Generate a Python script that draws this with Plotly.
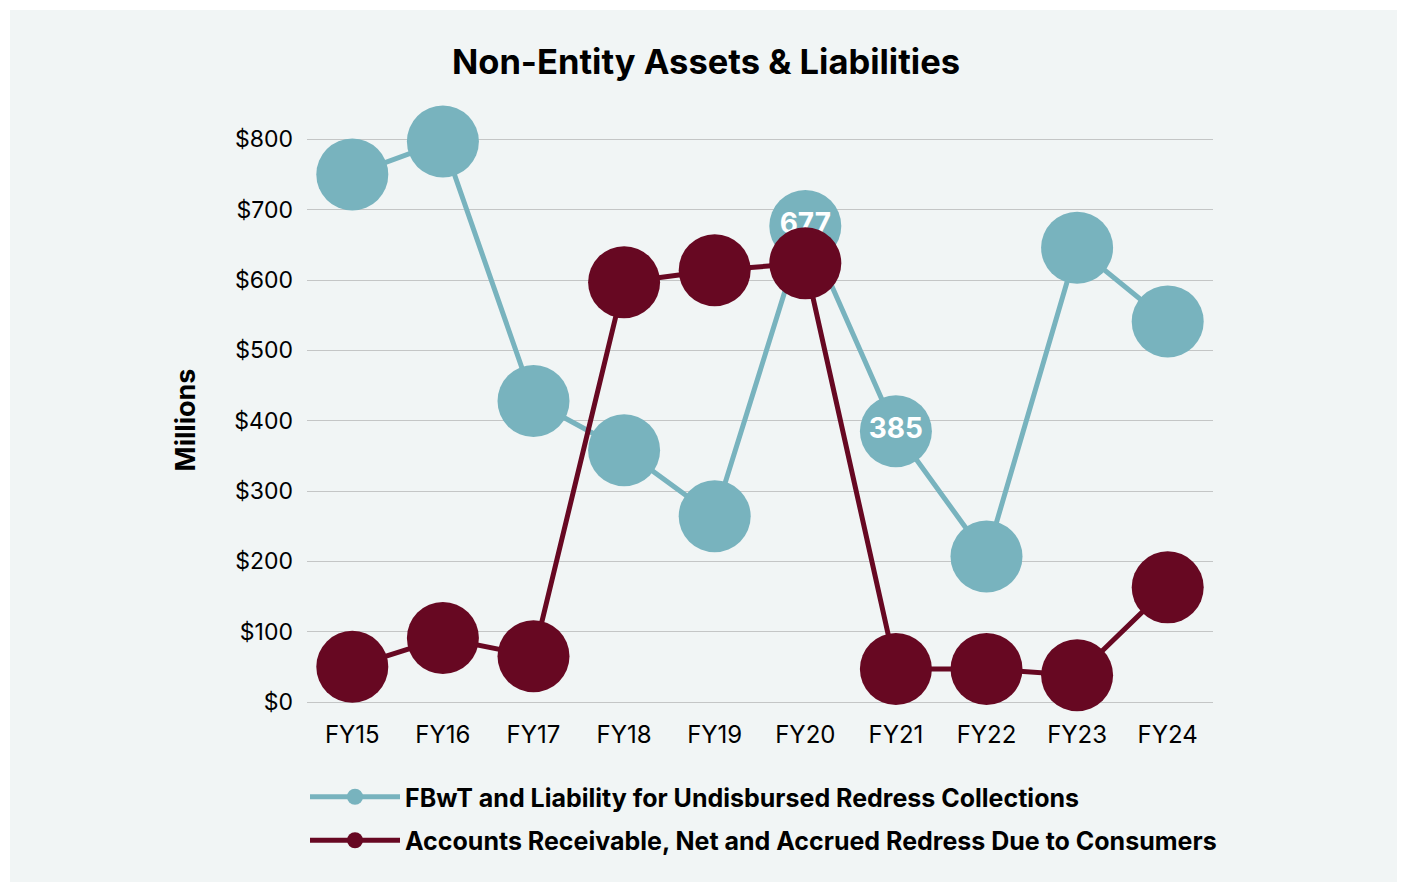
import plotly.graph_objects as go

categories = ["FY15", "FY16", "FY17", "FY18", "FY19", "FY20", "FY21", "FY22", "FY23", "FY24"]
fbwt_values = [750, 797, 428, 358, 264, 677, 385, 207, 646, 541]
ar_values = [50, 91, 65, 597, 614, 624, 47, 47, 38, 163]
fbwt_labels = ["", "", "", "", "", "677", "385", "", "", ""]
y_ticks = [0, 100, 200, 300, 400, 500, 600, 700, 800]
y_tick_labels = ["$" + str(v) for v in y_ticks]

TEAL = "#78b3be"
MAROON = "#670822"
BG = "#f1f5f5"
GRID = "#c4c6c6"

# page body has an 8px margin; figure sized to fit the window
W, H = 1397, 874
ML, MR, MT, MB = 299, 192, 130, 180
PW, PH = W - ML - MR, H - MT - MB

fig = go.Figure()
fig.add_trace(go.Scatter(
    x=categories, y=fbwt_values, mode="lines+markers+text",
    name="FBwT and Liability for Undisbursed Redress Collections",
    legendgroup="a",
    line=dict(color=TEAL, width=5),
    marker=dict(color=TEAL, size=72, line=dict(width=0)),
    text=fbwt_labels, textposition="middle center",
    textfont=dict(family="Inter", size=28, color="white", weight=700),
    cliponaxis=False,
))
fig.add_trace(go.Scatter(
    x=categories, y=ar_values, mode="lines+markers",
    name="Accounts Receivable, Net and Accrued Redress Due to Consumers",
    legendgroup="b",
    line=dict(color=MAROON, width=5),
    marker=dict(color=MAROON, size=72, line=dict(width=0)),
    cliponaxis=False,
))

# light panel behind the chart
fig.add_shape(type="rect", xref="paper", yref="paper",
              x0=(2 - ML) / PW, x1=(1394 - ML) / PW,
              y0=(H - MB - 880) / PH, y1=(H - MB - 2) / PH,
              fillcolor=BG, line=dict(width=0), layer="below")

fig.update_layout(
    width=W, height=H,
    margin=dict(l=ML, r=MR, t=MT, b=MB),
    paper_bgcolor="white", plot_bgcolor=BG,
    title=dict(text="<b>Non-Entity Assets & Liabilities</b>", x=(706 - 8) / W, xref="container",
               xanchor="center", y=1 - 54 / H, yanchor="middle",
               font=dict(family="Inter", size=34.5, color="black", weight=900)),
    font=dict(family="Inter", color="black"),
    showlegend=True,
    legend=dict(orientation="v", x=(297 - ML) / PW, xanchor="left",
                y=-(766 - (H - MB)) / PH, yanchor="top",
                font=dict(family="Inter", size=25, color="black", weight=700),
                itemwidth=90, tracegroupgap=8, bgcolor="rgba(0,0,0,0)"),
)
fig.update_xaxes(type="category", range=[-0.5, 9.5], showgrid=False, showline=False,
                 zeroline=False, ticks="", ticklabelstandoff=16,
                 tickfont=dict(family="Inter", size=24, color="black"))
fig.update_yaxes(range=[0, 802], tickvals=y_ticks, ticktext=y_tick_labels,
                 showgrid=True, gridcolor=GRID, gridwidth=1, zeroline=True,
                 zerolinecolor=GRID, zerolinewidth=1, showline=False, ticks="",
                 ticklabelstandoff=13,
                 tickfont=dict(family="Inter", size=23, color="black"),
                 title=dict(text="<b>Millions</b>", standoff=30,
                            font=dict(family="Inter", size=27, color="black", weight=800)))

fig.write_html("out.html")
